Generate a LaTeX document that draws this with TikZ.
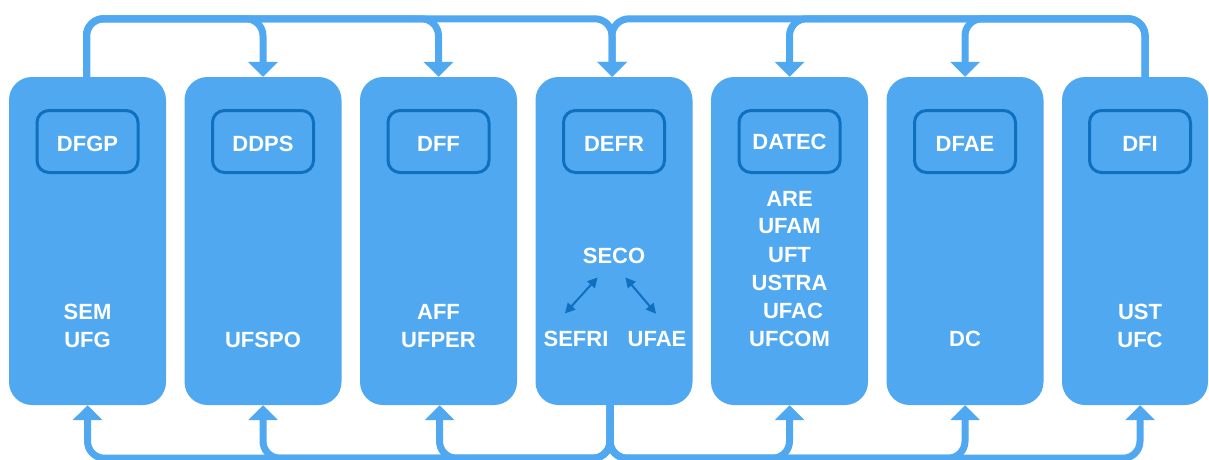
\documentclass[tikz,border=0pt]{standalone}
\usepackage{fontspec}
\setmainfont{Liberation Sans}
\usetikzlibrary{arrows.meta,calc}
\definecolor{boxblue}{RGB}{79,168,240}
\definecolor{darkblue}{RGB}{16,112,192}
\tikzset{
  outerbox/.style={fill=boxblue, rounded corners=23pt, minimum width=157pt, minimum height=328pt, inner sep=0pt},
  innerbox/.style={draw=darkblue, line width=3pt, rounded corners=12pt, minimum width=101pt, minimum height=62pt, inner sep=0pt},
  lbl/.style={text=white, font=\fontsize{22}{28}\selectfont\bfseries, inner sep=0pt, anchor=base},
  conn/.style={draw=boxblue, line width=7pt, rounded corners=17pt, -{Triangle[width=29pt,length=15pt]}},
  seca/.style={draw=darkblue, line width=2pt, {Triangle[width=10pt,length=10pt]}-{Triangle[width=10pt,length=10pt]}}
}
\begin{document}
\begin{tikzpicture}[x=1pt,y=-1pt]
\useasboundingbox (0,0) rectangle (1209,460);
% outer boxes
\node[outerbox] (dfgp) at (87.5,241) {};
\node[outerbox] (ddps) at (263,241) {};
\node[outerbox] (dff) at (438.5,241) {};
\node[outerbox] (defr) at (614,241) {};
\node[outerbox] (datec) at (789.5,241) {};
\node[outerbox] (dfae) at (965,241) {};
\node[outerbox, minimum width=146pt] (dfi) at (1135,241) {};
% inner boxes
\node[innerbox] (idfgp) at (87.5,141.5) {};
\node[innerbox] (iddps) at (263,141.5) {};
\node[innerbox] (idff) at (438.5,141.5) {};
\node[innerbox] (idefr) at (614,141.5) {};
\node[innerbox] (idatec) at (789.5,141.5) {};
\node[innerbox] (idfae) at (965,141.5) {};
\node[innerbox] (idfi) at (1140,141.5) {};
% inner titles
\node[lbl] (tdfgp) at (87.5,151) {DFGP};
\node[lbl] (tddps) at (263,151) {DDPS};
\node[lbl] (tdff) at (438.5,151) {DFF};
\node[lbl] (tdefr) at (614,151) {DEFR};
\node[lbl] (tdatec) at (789.5,149) {DATEC};
\node[lbl] (tdfae) at (965,151) {DFAE};
\node[lbl] (tdfi) at (1140,151) {DFI};
% contents
\node[lbl] (sem) at (87.5,319) {SEM};
\node[lbl] (ufg) at (87.5,347) {UFG};
\node[lbl] (ufspo) at (263,347) {UFSPO};
\node[lbl] (aff) at (438.5,319) {AFF};
\node[lbl] (ufper) at (438.5,347) {UFPER};
\node[lbl] (seco) at (614,263) {SECO};
\node[lbl] (sefri) at (576,346) {SEFRI};
\node[lbl] (ufae) at (657,346) {UFAE};
\node[lbl] (are) at (789.5,206) {ARE};
\node[lbl] (ufam) at (789.5,233) {UFAM};
\node[lbl] (uft) at (789.5,262) {UFT};
\node[lbl] (ustra) at (789.5,290) {USTRA};
\node[lbl] (ufac) at (793,318) {UFAC};
\node[lbl] (ufcom) at (789.5,346) {UFCOM};
\node[lbl] (dc) at (965,346) {DC};
\node[lbl] (ust) at (1140,319) {UST};
\node[lbl] (ufc) at (1140,347) {UFC};
% SECO arrows
\draw[seca] ($(seco.south west)+(15,14)$) -- ($(sefri.north)+(-11,-17)$);
\draw[seca] ($(seco.south east)+(-20,14)$) -- ($(ufae.north)+(-1,-17)$);
% top connectors
\coordinate (tl) at ($(dfgp.north)+(-1,0)$);
\coordinate (tr) at ($(dfi.north)+(10,0)$);
\draw[conn] (tl) -- ++(0,-58) -| (ddps.north);
\draw[conn] (tl) -- ++(0,-58) -| (dff.north);
\draw[conn] (tl) -- ++(0,-58) -| ($(defr.north)+(-2,0)$);
\draw[conn] (tr) -- ++(0,-58) -| (datec.north);
\draw[conn] (tr) -- ++(0,-58) -| (dfae.north);
\draw[conn] (tr) -- ++(0,-58) -| ($(defr.north)+(-2,0)$);
% bottom connectors
\coordinate (bs) at ($(defr.south)+(-4,0)$);
\draw[conn] (bs) -- ++(0,53) -| (dfgp.south);
\draw[conn] (bs) -- ++(0,53) -| (ddps.south);
\draw[conn] (bs) -- ++(0,53) -| ($(dff.south)+(1,0)$);
\draw[conn] (bs) -- ++(0,53) -| (datec.south);
\draw[conn] (bs) -- ++(0,53) -| (dfae.south);
\draw[conn] (bs) -- ++(0,53) -| ($(dfi.south)+(5,0)$);
\end{tikzpicture}
\end{document}
